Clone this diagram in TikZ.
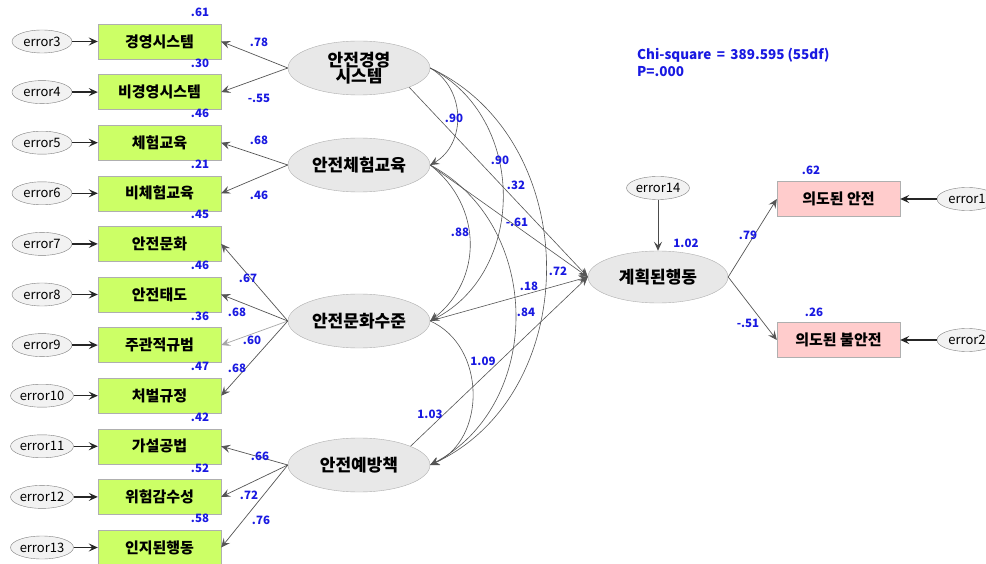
\documentclass[tikz,border=0pt]{standalone}
\usepackage{fontspec}
\setmainfont{Noto Sans CJK KR}
\usetikzlibrary{arrows.meta,shapes.geometric}
\definecolor{obsfill}{RGB}{204,255,102}
\definecolor{outfill}{RGB}{255,204,204}
\definecolor{latfill}{RGB}{232,232,232}
\definecolor{errfill}{RGB}{242,242,242}
\definecolor{edgegray}{RGB}{175,175,175}
\definecolor{coef}{RGB}{25,25,225}
\definecolor{pathgray}{RGB}{85,85,85}
\begin{document}
\begin{tikzpicture}[x=1pt,y=-1pt,
  obs/.style={draw=edgegray,fill=obsfill,minimum width=123pt,minimum height=35pt,inner sep=0pt,
    font=\bfseries\fontsize{15}{17}\selectfont},
  outc/.style={obs,fill=outfill},
  lat/.style={ellipse,draw=edgegray,fill=latfill,minimum width=142pt,minimum height=54pt,inner sep=0pt,
    font=\bfseries\fontsize{17}{19}\selectfont,align=center},
  err/.style={ellipse,draw=gray,fill=errfill,minimum width=60pt,minimum height=23pt,inner sep=0pt,
    font=\fontsize{13}{14}\selectfont},
  num/.style={text=coef,font=\bfseries\fontsize{11.5}{12}\selectfont,inner sep=0pt},
  tip/.style={-{Stealth[length=9pt,width=8pt,inset=3.5pt]}},
  load/.style={tip,draw=pathgray,line width=0.7pt},
  errarrow/.style={tip,draw=black!85,line width=1.3pt},
  cov/.style={tip,draw=pathgray,line width=0.6pt,looseness=1.1},
]
\clip (0,0) rectangle (986,564);
\fill[white] (0,0) rectangle (986,564);

% measured indicators and their error terms
\foreach \i/\lab/\r in {1/경영시스템/.61, 2/비경영시스템/.30, 3/체험교육/.46, 4/비체험교육/.21,
  5/안전문화/.45, 6/안전태도/.46, 7/주관적규범/.36, 8/처벌규정/.47,
  9/가설공법/.42, 10/위험감수성/.52, 11/인지된행동/.58}{
  \pgfmathsetmacro{\yy}{41.5+50.6*(\i-1)}
  \node[obs] (x\i) at (159.5,\yy) {\lab};
  \pgfmathtruncatemacro{\ee}{\i+2}
  \node[err] (e\i) at (42,\yy) {error\ee};
  \draw[errarrow] (e\i) -- (x\i);
  \node[num] at (200,\yy-29) {\r};
}

% latent factors
\node[lat] (L1) at (359,68) {안전경영\\[-3pt]시스템};
\node[lat] (L2) at (359,165) {안전체험교육};
\node[lat] (L3) at (359,321) {안전문화수준};
\node[lat] (L4) at (359,465) {안전예방책};
\node[lat,minimum width=140pt,minimum height=52pt] (B) at (658,277) {계획된행동};
\node[err] (e14) at (658,188) {error14};

% outcomes
\node[outc] (O1) at (838.5,199) {의도된 안전};
\node[outc] (O2) at (838.5,340) {의도된 불안전};
\node[err] (e1) at (967,199) {error1};
\node[err] (e2) at (967,340) {error2};
\draw[errarrow] (e1) -- (O1);
\draw[errarrow] (e2) -- (O2);
\draw[errarrow,line width=1pt,draw=black!70] (e14) -- (B);

% factor loadings
\draw[load] (L1.west) -- (x1.east);
\draw[load] (L1.west) -- (x2.east);
\draw[load] (L2.west) -- (x3.east);
\draw[load] (L2.west) -- (x4.east);
\draw[load] (L3.west) -- (x5.east);
\draw[load] (L3.west) -- (x6.east);
\draw[load,draw=gray!70] (L3.west) -- (x7.east);
\draw[load] (L3.west) -- (x8.east);
\draw[load] (L4.west) -- (x9.east);
\draw[load] (L4.west) -- (x10.east);
\draw[load] (L4.west) -- (x11.east);
\node[num] at (259,42) {.78};
\node[num] at (259,98) {-.55};
\node[num] at (259,140) {.68};
\node[num] at (259,195) {.46};
\node[num] at (248,278) {.67};
\node[num] at (237,312) {.68};
\node[num] at (252,340) {.60};
\node[num] at (237,368) {.68};
\node[num] at (260,456) {.66};
\node[num] at (249,495) {.72};
\node[num] at (261,520) {.76};

% covariances between factors
\draw[cov] (L1.east) to[bend left=60] (L2.east);
\draw[cov] (L1.east) to[bend left=63] (L3.east);
\draw[cov] (L1.east) to[bend left=65] (L4.east);
\draw[cov] (L2.east) to[bend left=52] (L3.east);
\draw[cov] (L2.east) to[bend left=62] (L4.east);
\draw[cov] (L3.east) to[bend left=66] (L4.east);
\node[num] at (454,118) {.90};
\node[num] at (500,160) {.90};
\node[num] at (460,232) {.88};
\node[num] at (558,271) {.72};
\node[num] at (526,312) {.84};
\node[num] at (483,361) {1.09};

% structural paths
\draw[load,line width=0.6pt] (L1.-21) -- (B.west);
\draw[load,line width=0.6pt] (L2.east) -- (B.west);
\draw[load,line width=0.6pt] (L3.east) -- (B.west);
\draw[load,line width=0.6pt] (L4.20) -- (B.west);
\draw[load] (B.east) -- (O1.west);
\draw[load] (B.east) -- (O2.west);
\node[num] at (516,185) {.32};
\node[num] at (517,222) {-.61};
\node[num] at (529,286) {.18};
\node[num] at (430,414) {1.03};
\node[num] at (686,243) {1.02};
\node[num] at (748,235) {.79};
\node[num] at (748,323) {-.51};
\node[num] at (811,170) {.62};
\node[num] at (814,312) {.26};

% fit statistics
\node[num,anchor=west,font=\bfseries\fontsize{13.5}{15}\selectfont] (chi) at (637,55) {Chi-square\ \,=\ \,389.595 (55df)};
\node[num,anchor=west,font=\bfseries\fontsize{13.5}{15}\selectfont] (pv) at (637,72) {P=.000};
\end{tikzpicture}
\end{document}
